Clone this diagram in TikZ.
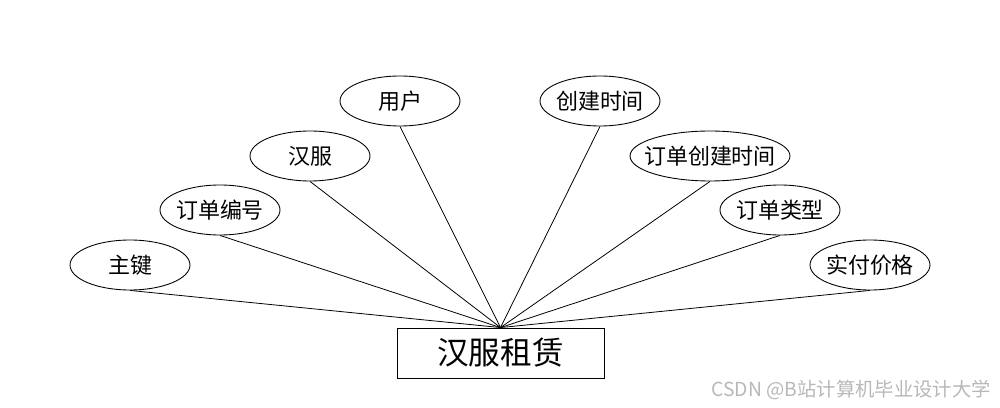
\documentclass[tikz,border=0pt]{standalone}
\usepackage{fontspec}
\newfontfamily\cjk{Noto Sans CJK SC}
\usetikzlibrary{shapes.geometric}
\tikzset{
  attr/.style={ellipse, draw=black, line width=0.5pt, inner ysep=0pt, inner xsep=-6pt,
    minimum width=2.4cm, minimum height=1cm, font=\cjk\fontsize{12.5}{14}\selectfont},
  ent/.style={rectangle, draw=black, line width=0.5pt, inner sep=0pt,
    minimum width=4.14cm, minimum height=1cm, font=\cjk\fontsize{18}{21}\selectfont},
  link/.style={line width=0.45pt, draw=black},
  wmark/.style={font=\cjk\fontsize{11}{13}\selectfont, text=black!28, anchor=east},
}
\begin{document}
\begin{tikzpicture}[x=0.02cm, y=-0.02cm]
    \useasboundingbox (0,0) rectangle (1000,408);
    % entity
    \node[ent] (rent) at (500.5,353) {汉服租赁};
    % attributes, left side
    \node[attr] (pk) at (130,265) {主键};
    \node[attr] (ono) at (220,210) {订单编号};
    \node[attr] (hf) at (310,156) {汉服};
    \node[attr] (usr) at (400,101) {用户};
    % attributes, right side
    \node[attr] (ctime) at (600,101) {创建时间};
    \node[attr, minimum width=3.2cm] (otime) at (710,156) {订单创建时间};
    \node[attr] (otype) at (780,210) {订单类型};
    \node[attr] (price) at (870,265) {实付价格};
    % links
    \foreach \a in {pk,ono,hf,usr,ctime,otime,otype,price}
      \draw[link] (\a.south) -- (rent.north);
    \node[wmark] (wm) at (997,390) {CSDN @B站计算机毕业设计大学};
\end{tikzpicture}
\end{document}
